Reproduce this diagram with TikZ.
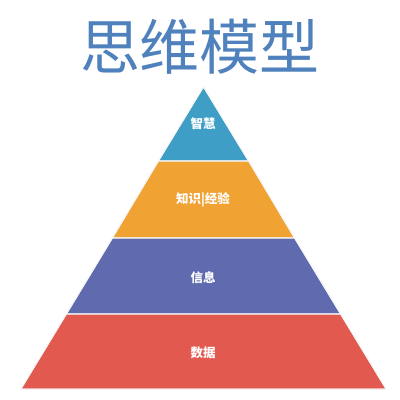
\documentclass[tikz,border=0pt]{standalone}
\usepackage{fontspec}
\newfontfamily\cjk{Noto Sans CJK SC}
\definecolor{titleblue}{HTML}{4F81BD}
\definecolor{layerA}{HTML}{3E9EC6}
\definecolor{layerB}{HTML}{F0A233}
\definecolor{layerC}{HTML}{5F6BAE}
\definecolor{layerD}{HTML}{E2594F}
\tikzset{
  layer/.style={draw=white!92!gray, line width=0.8pt, line join=round},
  lbl/.style={text=white, font=\cjk\bfseries\fontsize{12.5}{14}\selectfont, inner sep=0pt},
}
\begin{document}
\begin{tikzpicture}[x=1pt,y=-1pt]
\useasboundingbox[fill=white] (0,0) rectangle (400,400);
\node[font=\cjk\fontsize{60}{62}\selectfont, text=titleblue, inner sep=0pt] (title) at (200,47) {思维模型};
\fill[layerA, layer] (203.5,87) -- (248.5,161) -- (158.5,161) -- cycle;
\fill[layerB, layer] (158.5,161) -- (248.5,161) -- (294.5,238) -- (112.5,238) -- cycle;
\fill[layerC, layer] (112.5,238) -- (294.5,238) -- (340.5,314) -- (66.5,314) -- cycle;
\fill[layerD, layer] (66.5,314) -- (340.5,314) -- (386,389) -- (21,389) -- cycle;
\draw[layer] (203.5,87) -- (248.5,161) -- (158.5,161) -- cycle;
\draw[layer] (158.5,161) -- (248.5,161) -- (294.5,238) -- (112.5,238) -- cycle;
\draw[layer] (112.5,238) -- (294.5,238) -- (340.5,314) -- (66.5,314) -- cycle;
\draw[layer] (66.5,314) -- (340.5,314) -- (386,389) -- (21,389) -- cycle;
\node[lbl] (wisdom) at (203,124) {智慧};
\node[lbl] (knowledge) at (203,200) {知识|经验};
\node[lbl] (info) at (203,278) {信息};
\node[lbl] (data) at (203,353) {数据};
\end{tikzpicture}
\end{document}
